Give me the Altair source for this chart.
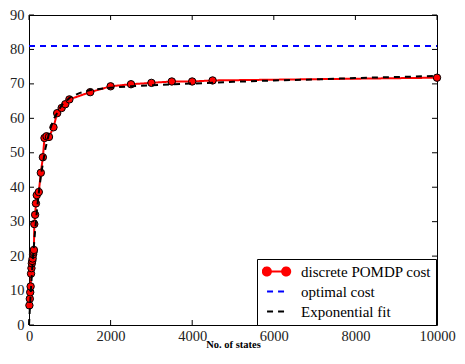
import altair as alt
import pandas as pd

# ---- data ----
states = [10, 20, 30, 40, 50, 60, 70, 80, 90, 100, 110, 120, 130, 150, 170, 190,
          240, 290, 340, 380, 430, 490, 600, 690, 800, 890, 990, 1500, 2000, 2500,
          3000, 3500, 4000, 4500, 10000]
cost = [5.7, 7.6, 9.5, 11.2, 14.9, 16.5, 17.9, 18.6, 19.3, 20.5, 21.2, 21.8, 29.3,
        32.0, 35.3, 37.7, 38.6, 44.2, 48.7, 54.3, 54.8, 54.6, 57.4, 61.5, 63.0, 64.1,
        65.5, 67.6, 69.3, 69.9, 70.3, 70.7, 70.7, 71.0, 71.8]

fit_states = [0, 25, 50, 75, 100, 150, 200, 250, 300, 400, 500, 600, 800, 1000,
              1250, 1500, 2000, 2500, 3000, 4000, 5000, 6000, 7000, 8000, 9000, 10000]
fit_cost = [0, 5.6, 10.8, 15.6, 19.9, 27.5, 34.0, 39.4, 44.0, 51.1, 56.1, 59.7, 63.8,
            66.0, 67.4, 68.2, 68.9, 69.3, 69.6, 70.1, 70.6, 71.0, 71.3, 71.7, 72.0, 72.3]

optimal_states = [0, 10000]
optimal_cost = [81, 81]

series_names = ["discrete POMDP cost", "optimal cost", "Exponential fit"]
series_colors = ["#ff0000", "#0000ff", "#000000"]
series_dashes = [[1, 0], [6, 5], [6, 5]]

x_ticks = [0, 2000, 4000, 6000, 8000, 10000]
y_ticks = [0, 10, 20, 30, 40, 50, 60, 70, 80, 90]

# ---- layout ----
W, H = 408, 310
FONT = "Liberation Serif"
TICK_LEN = 5

df_cost = pd.DataFrame({"states": states, "cost": cost, "series": series_names[0]})
df_opt = pd.DataFrame({"states": optimal_states, "cost": optimal_cost, "series": series_names[1]})
df_fit = pd.DataFrame({"states": fit_states, "cost": fit_cost, "series": series_names[2]})
df_xt = pd.DataFrame({"states": x_ticks})
df_yt = pd.DataFrame({"cost": y_ticks})

xscale = alt.Scale(domain=[0, 10000], nice=False, zero=False)
yscale = alt.Scale(domain=[0, 90], nice=False, zero=False)

red_path = ("M-0.715,0L0.715,0"
            "M-0.415,0A0.3,0.3,0,1,1,-1.015,0A0.3,0.3,0,1,1,-0.415,0Z"
            "M1.015,0A0.3,0.3,0,1,1,0.415,0A0.3,0.3,0,1,1,1.015,0Z")
sym_expr = ("datum.value == 'discrete POMDP cost' ? '" + red_path +
            "' : 'M-0.7,0L0.7,0'")
fill_expr = "datum.value == 'discrete POMDP cost' ? '#ff0000' : 'transparent'"

legend = alt.Legend(
    title=None, orient="none", legendX=228, legendY=H - 66,
    fillColor="white", strokeColor="black", padding=5, cornerRadius=0,
    labelFont=FONT, labelFontSize=15, labelColor="black", labelOffset=10,
    symbolSize=729, symbolStrokeWidth=2, symbolOffset=0,
    symbolType={"expr": sym_expr}, symbolFillColor={"expr": fill_expr},
    clipHeight=15, rowPadding=4,
)

color = alt.Color("series:N", scale=alt.Scale(domain=series_names, range=series_colors),
                  legend=legend)
dash = alt.StrokeDash("series:N", scale=alt.Scale(domain=series_names, range=series_dashes),
                      legend=legend)

x_axis = alt.Axis(values=x_ticks, format="d", grid=False, domain=False, ticks=False,
                  tickSize=0, labelFlush=False, labelOverlap=False,
                  labelFont=FONT, labelFontSize=14.5, labelColor="#222",
                  labelPadding=4, titleFont=FONT, titleFontSize=10.5,
                  titleFontWeight="bold", titleColor="black", titlePadding=-3)
y_axis = alt.Axis(values=y_ticks, format="d", grid=False, domain=False, ticks=False,
                  tickSize=0, labelFlush=False, labelOverlap=False,
                  labelFont=FONT, labelFontSize=14.5, labelColor="#222",
                  labelPadding=5)


def X():
    return alt.X("states:Q", scale=xscale, title="No. of states", axis=x_axis)


def Y():
    return alt.Y("cost:Q", scale=yscale, title=None, axis=y_axis)


red_line = alt.Chart(df_cost).mark_line(strokeWidth=2).encode(
    x=X(), y=Y(), color=color, strokeDash=dash)
red_pts = alt.Chart(df_cost).mark_point(filled=True, size=55, fill="#ff0000",
                                        stroke="black", strokeWidth=1, opacity=1).encode(
    x=X(), y=Y())
opt_line = alt.Chart(df_opt).mark_line(strokeWidth=2).encode(
    x=X(), y=Y(), color=color, strokeDash=dash)
fit_line = alt.Chart(df_fit).mark_line(strokeWidth=2).encode(
    x=X(), y=Y(), color=color, strokeDash=dash)

tick_style = dict(color="black", strokeWidth=1)
xt_bottom = alt.Chart(df_xt).mark_rule(**tick_style).encode(
    x=X(), y=alt.value(H), y2=alt.value(H - TICK_LEN))
xt_top = alt.Chart(df_xt).mark_rule(**tick_style).encode(
    x=X(), y=alt.value(0), y2=alt.value(TICK_LEN))
yt_left = alt.Chart(df_yt).mark_rule(**tick_style).encode(
    y=Y(), x=alt.value(0), x2=alt.value(TICK_LEN))
yt_right = alt.Chart(df_yt).mark_rule(**tick_style).encode(
    y=Y(), x=alt.value(W), x2=alt.value(W - TICK_LEN))

chart = alt.layer(
    red_line, red_pts, opt_line, fit_line, xt_bottom, xt_top, yt_left, yt_right
).properties(
    width=W, height=H,
    autosize=alt.AutoSizeParams(type="none"),
    padding={"left": 21, "top": 7, "right": 20, "bottom": 27},
    background="white",
).configure_view(stroke="black", strokeWidth=1)

chart.save("out.html", embed_options={"renderer": "svg", "actions": False})
